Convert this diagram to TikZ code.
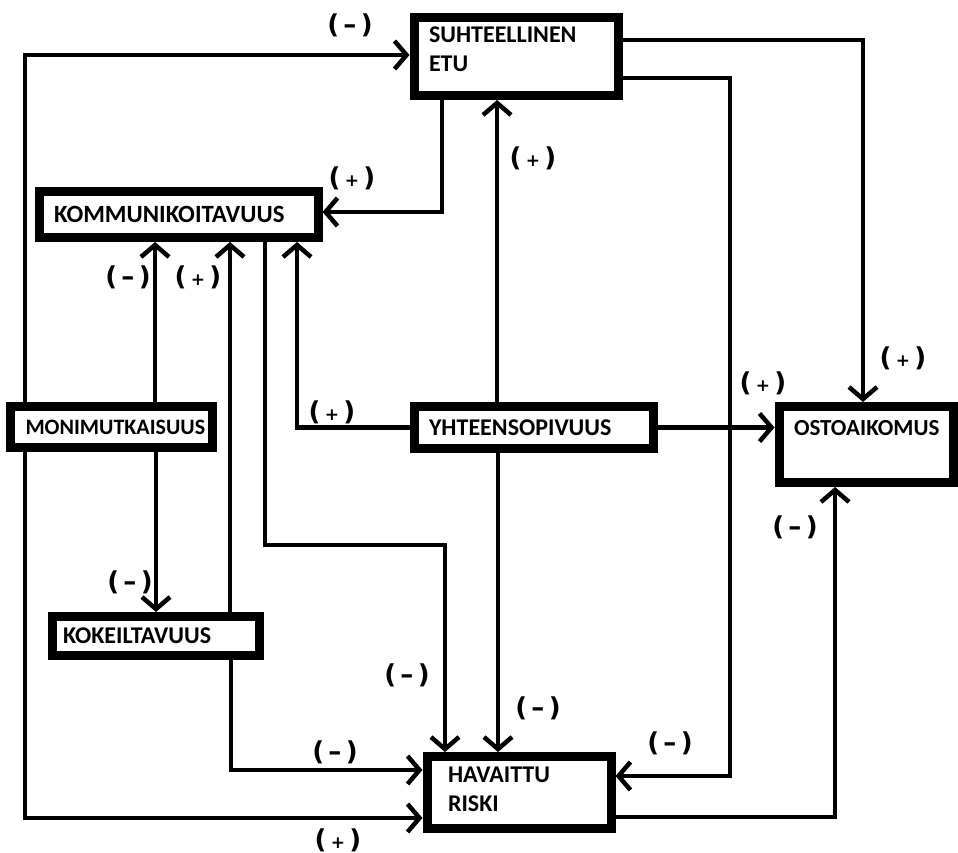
\documentclass[tikz,border=0pt]{standalone}
\usepackage{fontspec}
\setmainfont{Carlito}
\newfontfamily\signfont{DejaVu Sans}
\usetikzlibrary{arrows.meta}
\hyphenpenalty=10000

\begin{document}
\begin{tikzpicture}[x=1pt,y=-1pt,
  box/.style={draw, line width=9pt, align=left, inner xsep=15pt, inner ysep=0pt,
    font=\bfseries\fontsize{24}{29}\selectfont},
  conn/.style={line width=4.5pt, -{Straight Barb[length=12pt,width=28pt]}},
  sign/.style={inner sep=0pt, font=\signfont\bfseries\fontsize{26}{28}\selectfont}]
\useasboundingbox (0,0) rectangle (958,853);
\def\minus{(\,–\,)}
\def\plus{(\,{\fontsize{17}{17}\selectfont+}\,)}

% boxes
\node[box, text width=174pt, minimum height=78pt, text height=16pt, text depth=44pt] (etu) at (516,56.5) {SUHTEELLINEN\\ETU};
\node[box, font=\bfseries\fontsize{24.8}{29}\selectfont, text width=249pt, minimum height=46pt] (komm) at (178.5,214.5) {KOMMUNIKOITAVUUS};
\node[box, font=\bfseries\fontsize{22}{29}\selectfont, text width=172pt, minimum height=41pt] (moni) at (111.5,427) {MONIMUTKAISUUS};
\node[box, text width=209pt, minimum height=42pt] (yht) at (533.5,427.5) {YHTEENSOPIVUUS};
\node[box, font=\bfseries\fontsize{23}{29}\selectfont, text width=144pt, minimum height=76pt, text height=16pt, text depth=34pt] (osto) at (866,444.5) {OSTOAIKOMUS};
\node[box, inner xsep=11pt, text width=185pt, minimum height=39pt] (koke) at (155.5,636) {KOKEILTAVUUS};
\node[box, inner xsep=21pt, text width=142pt, minimum height=72pt, text height=16pt, text depth=36pt] (risk) at (519,792.5) {HAVAITTU\\RISKI};

% connectors
\draw[conn] (moni.north -| 25,0) |- (etu.west |- 0,55);
\draw[conn] (etu.east |- 0,40) -| (osto.north -| 863,0);
\draw[conn] (etu.east |- 0,78) -| (730,776) -- (risk.east |- 0,776);
\draw[conn] (etu.south -| 442,0) |- (komm.east |- 0,212);
\draw[conn] (yht.north -| 497,0) -- (etu.south -| 497,0);
\draw[conn] (yht.west) -| (komm.south -| 297,0);
\draw[conn] (yht.east) -- (osto.west |- yht.east);
\draw[conn] (yht.south -| 498,0) -- (risk.north -| 498,0);
\draw[conn] (moni.north -| 155,0) -- (komm.south -| 155,0);
\draw[conn] (moni.south -| 156,0) -- (koke.north -| 156,0);
\draw[conn] (koke.north -| 230,0) -- (komm.south -| 230,0);
\draw[conn] (koke.south -| 231,0) |- (risk.west |- 0,770);
\draw[conn] (komm.south -| 265,0) |- (445,545) -- (risk.north -| 445,0);
\draw[conn] (moni.south -| 25,0) |- (risk.west |- 0,818);
\draw[conn] (risk.east |- 0,817) -| (osto.south -| 835,0);

% signs
\node[sign] (s1) at (350,25) {\minus};
\node[sign] (s2) at (903,358) {\plus};
\node[sign] (s3) at (670,743) {\minus};
\node[sign] (s4) at (352,178) {\plus};
\node[sign] (s5) at (533,158) {\plus};
\node[sign] (s6) at (332,412) {\plus};
\node[sign] (s7) at (763,383) {\plus};
\node[sign] (s8) at (538,708) {\minus};
\node[sign] (s9) at (128,277) {\minus};
\node[sign] (s10) at (130,582) {\minus};
\node[sign] (s11) at (198,277) {\plus};
\node[sign] (s12) at (335,752) {\minus};
\node[sign] (s13) at (407,675) {\minus};
\node[sign] (s14) at (338,840) {\plus};
\node[sign] (s15) at (795,527) {\minus};
\end{tikzpicture}
\end{document}
